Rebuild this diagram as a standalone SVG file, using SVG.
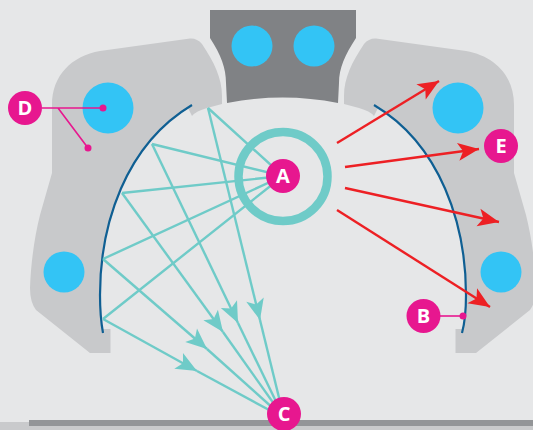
<svg xmlns="http://www.w3.org/2000/svg" width="533" height="430" viewBox="0 0 533 430">
<style>
.shoulder{fill:#c8c9cb}
.hole{fill:#33c4f5}
.arc{fill:none;stroke:#0f5f93;stroke-width:2.2}
.teal{fill:none;stroke:#6fcbc8;stroke-width:2.4}
.red{fill:none;stroke:#ed2024;stroke-width:2.4}
.lead{fill:none;stroke:#e7178f;stroke-width:1.6}
.pink{fill:#e7178f}
.lbl{font-family:"Open Sans","Liberation Sans",sans-serif;font-weight:700;font-size:20px;fill:#fff;text-anchor:middle}
</style>
<defs>
<marker id="ht" markerUnits="userSpaceOnUse" viewBox="-22 -10 23 20" refX="0" refY="0" markerWidth="23" markerHeight="20" orient="auto"><path d="M0,0L-21,-9L-16,0L-21,9Z" fill="#6fcbc8"/></marker>
<marker id="hr" markerUnits="userSpaceOnUse" viewBox="-22 -10 23 20" refX="0" refY="0" markerWidth="23" markerHeight="20" orient="auto"><path d="M0,0L-21,-9L-16,0L-21,9Z" fill="#ed2024"/></marker>
</defs>
<rect width="533" height="430" fill="#e6e7e8"/>
<rect x="0" y="422" width="533" height="8" fill="#c9cacc"/>
<rect x="29" y="420" width="504" height="6" fill="#939598"/>
<g id="top-block">
<path d="M210,10H356V38C345,55 339,68 339,83L338,103Q283,92 227,103L226,83C226,68 221,55 210,38Z" fill="#808285"/>
<circle class="hole" cx="252" cy="46" r="20.5"/>
<circle class="hole" cx="314" cy="46" r="20.5"/>
</g>
<g id="left-shoulder">
<path class="shoulder" d="M190,38.5Q197,38 202,44C214,62 222,78 222,96V104L207,108Q196,111 192,116L188,108L192,105C125,145 100,225 100,295C100,310 101,322 103,329H110.500V353H90L36,310Q30,302 30,288C31,260 35,235 40,215L52,173V105C52,75 72,56 100,51Z"/>
<circle class="hole" cx="108" cy="108" r="25.500"/>
<circle class="hole" cx="64" cy="272" r="20.500"/>
<path class="arc" d="M192,105C125,145 100,225 100,295C100,310 101,322 103,333"/>
</g>
<g id="right-shoulder">
<path class="shoulder" d="M376,38.500Q369,38 364,44C352,62 344,78 344,96V104L359,108Q370,111 374,116L378,108L374,105C441,145 466,225 466,295C466,310 465,322 463,329H455.500V353H476L530,310Q536,302 536,288C535,260 531,235 526,215L514,173V105C514,75 494,56 466,51Z"/>
<circle class="hole" cx="458" cy="108" r="25.500"/>
<circle class="hole" cx="501" cy="272" r="20.500"/>
<path class="arc" d="M374,105C441,145 466,225 466,295C466,310 465,322 462,333"/>
</g>
<g id="connectors">
<g class="teal">
<path d="M208,108L283,176M152,144L283,176M122,193L283,176M103,259L283,176M103,319L283,176"/>
<path d="M208,108L260,320" marker-end="url(#ht)"/><path d="M260,320L284,418"/>
<path d="M152,144L238,323" marker-end="url(#ht)"/><path d="M238,323L284,418"/>
<path d="M122,193L223,332" marker-end="url(#ht)"/><path d="M223,332L284,418"/>
<path d="M103,259L207,349" marker-end="url(#ht)"/><path d="M207,349L284,418"/>
<path d="M103,319L197,371" marker-end="url(#ht)"/><path d="M197,371L284,418"/>
</g>
<g class="red">
<path d="M337,143L439,81" marker-end="url(#hr)"/>
<path d="M345,167L479,149" marker-end="url(#hr)"/>
<path d="M345,188L499,222" marker-end="url(#hr)"/>
<path d="M337,210L490,307" marker-end="url(#hr)"/>
</g>
<path class="lead" d="M42,108H103M58,108L88,148"/>
<circle class="pink" cx="103" cy="108" r="3.500"/>
<circle class="pink" cx="88" cy="148" r="3.500"/>
<path class="lead" d="M440,316H463"/>
<circle class="pink" cx="463" cy="316" r="3.500"/>
</g>
<g id="node-a">
<circle cx="283" cy="176.500" r="44.500" fill="none" stroke="#6fcbc8" stroke-width="8.500"/>
<circle class="pink" cx="283" cy="176" r="17"/>
<text class="lbl" x="283" y="183">A</text>
</g>
<g id="node-b"><circle class="pink" cx="423.500" cy="316" r="17"/><text class="lbl" x="423.500" y="323">B</text></g>
<g id="node-c"><circle class="pink" cx="284" cy="414" r="17"/><text class="lbl" x="284" y="421">C</text></g>
<g id="node-d"><circle class="pink" cx="25" cy="108" r="17"/><text class="lbl" x="25" y="115">D</text></g>
<g id="node-e"><circle class="pink" cx="501" cy="146" r="17"/><text class="lbl" x="501" y="153">E</text></g>
</svg>
